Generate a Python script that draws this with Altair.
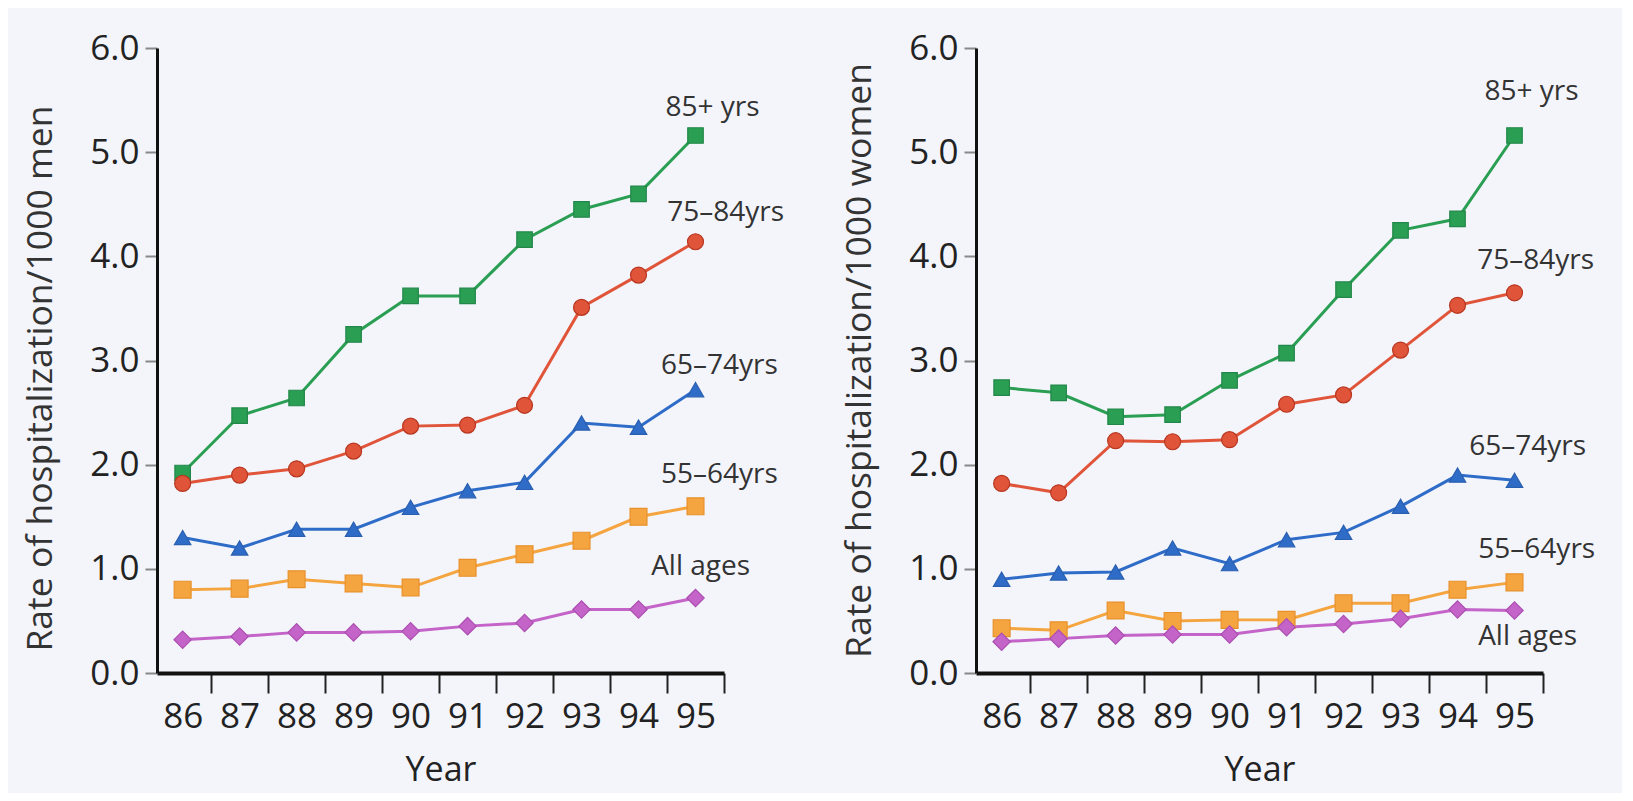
import altair as alt
import pandas as pd

years = [86, 87, 88, 89, 90, 91, 92, 93, 94, 95]
series = ["85+ yrs", "75–84yrs", "65–74yrs", "55–64yrs", "All ages"]

men_85 = [1.92, 2.47, 2.64, 3.25, 3.62, 3.62, 4.16, 4.45, 4.60, 5.16]
men_75 = [1.82, 1.90, 1.96, 2.13, 2.37, 2.38, 2.57, 3.51, 3.82, 4.14]
men_65 = [1.30, 1.20, 1.38, 1.38, 1.59, 1.75, 1.83, 2.40, 2.36, 2.72]
men_55 = [0.80, 0.81, 0.90, 0.86, 0.82, 1.01, 1.14, 1.27, 1.50, 1.60]
men_all = [0.32, 0.35, 0.39, 0.39, 0.40, 0.45, 0.48, 0.61, 0.61, 0.72]

women_85 = [2.74, 2.69, 2.46, 2.48, 2.81, 3.07, 3.68, 4.25, 4.36, 5.16]
women_75 = [1.82, 1.73, 2.23, 2.22, 2.24, 2.58, 2.67, 3.10, 3.53, 3.65]
women_65 = [0.90, 0.96, 0.97, 1.20, 1.05, 1.28, 1.35, 1.60, 1.90, 1.85]
women_55 = [0.43, 0.41, 0.60, 0.50, 0.51, 0.51, 0.67, 0.67, 0.80, 0.87]
women_all = [0.30, 0.33, 0.36, 0.37, 0.37, 0.44, 0.47, 0.52, 0.61, 0.60]

# annotation anchors (data coordinates)
men_label_x = [95.3, 95.53, 95.42, 95.42, 95.09]
men_label_y = [5.42, 4.42, 2.95, 1.90, 1.02]
women_label_x = [95.3, 95.37, 95.23, 95.39, 95.23]
women_label_y = [5.58, 3.96, 2.17, 1.18, 0.35]

y_ticks = [0, 1, 2, 3, 4, 5, 6]

colors = ["#2a9e52", "#e0553a", "#2e6cc8", "#f5a540", "#c463c8"]
outlines = ["#23874a", "#b8361f", "#2a5fb0", "#e8902a", "#ad4fb2"]
shapes = ["square", "circle", "triangle-up", "square", "diamond"]
sizes = [240, 300, 300, 260, 380]

FONT = "Open Sans"
W, H = 567, 625


def long_df(vals):
    rows = []
    for s, v in zip(series, vals):
        for yr, val in zip(years, v):
            rows.append({"year": yr, "rate": val, "series": s})
    return pd.DataFrame(rows)


def panel(vals, lx, ly, title, title_y):
    df = long_df(vals)
    ann = pd.DataFrame({"year": lx, "rate": ly, "label": series})
    xs = alt.Scale(domain=[85.55, 95.5], nice=False, zero=False)
    ys = alt.Scale(domain=[0, 6], nice=False)
    half = W / 9.95 / 2
    x = alt.X("year:Q", scale=xs, title="Year",
              axis=alt.Axis(values=years, format="d", tickOffset=half, labelOffset=-half,
                            tickSize=20, tickWidth=2, tickColor="#222",
                            domainColor="#111", domainWidth=4, labelOverlap=False,
                            labelFontSize=35, labelPadding=6, labelColor="#222",
                            titleFontSize=34, titlePadding=19, titleColor="#222",
                            titleFontWeight="normal", grid=False, labelFlush=False))
    y = alt.Y("rate:Q", scale=ys, title=title,
              axis=alt.Axis(values=y_ticks, format=".1f", tickSize=12, tickWidth=2,
                            tickColor="#888", domainColor="#111", domainWidth=3,
                            labelFontSize=35, labelPadding=6, labelColor="#222",
                            labelOverlap=False, titleY=title_y,
                            titleFontSize=35.5, titlePadding=31, titleColor="#333",
                            titleFontWeight="normal", grid=False))
    color = alt.Color("series:N", scale=alt.Scale(domain=series, range=colors), legend=None)
    lines = alt.Chart(df).mark_line(strokeWidth=3).encode(
        x=x, y=y, color=color, detail="series:N")
    pts = alt.Chart(df).mark_point(filled=True, opacity=1, strokeWidth=1.2).encode(
        x=x, y=y,
        fill=alt.Fill("series:N", scale=alt.Scale(domain=series, range=colors), legend=None),
        stroke=alt.Stroke("series:N", scale=alt.Scale(domain=series, range=outlines), legend=None),
        shape=alt.Shape("series:N", scale=alt.Scale(domain=series, range=shapes), legend=None),
        size=alt.Size("series:N", scale=alt.Scale(domain=series, range=sizes), legend=None),
    )
    txt = alt.Chart(ann).mark_text(font=FONT, fontSize=28, color="#333",
                                   align="center", baseline="middle").encode(
        x=x, y=y, text="label:N")
    return alt.layer(lines, pts, txt).properties(width=W, height=H)


left = panel([men_85, men_75, men_65, men_55, men_all], men_label_x, men_label_y,
             "Rate of hospitalization/1000 men", 330)
right = panel([women_85, women_75, women_65, women_55, women_all], women_label_x,
              women_label_y, "Rate of hospitalization/1000 women", 312)

chart = alt.hconcat(left, right, spacing=57).properties(
    background="#f3f5fb",
    padding={"left": 15, "top": 23, "right": 26, "bottom": 6},
).configure_view(stroke=None).configure_axis(
    labelFont=FONT, titleFont=FONT
).configure_text(font=FONT)

chart.save("out.html", embed_options={"renderer": "svg", "actions": False})
